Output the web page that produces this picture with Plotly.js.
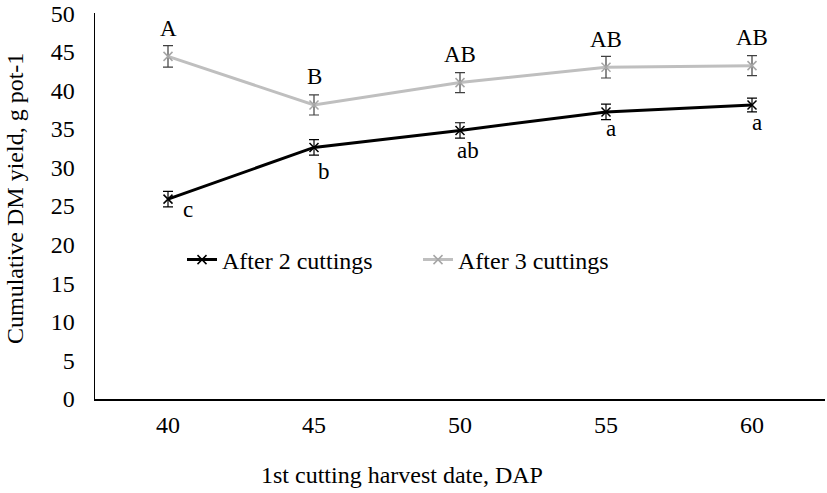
<!DOCTYPE html>
<html>
<head>
<meta charset="utf-8">
<script src="https://cdn.plot.ly/plotly-3.0.1.min.js"></script>
<style>html,body{margin:0;padding:0;background:#fff;}#chart{width:827px;height:493px;}</style>
</head>
<body>
<div id="chart"></div>
<script>
// ---- data ----
const categories = ["40", "45", "50", "55", "60"];
const after2 = [25.9, 32.6, 34.8, 37.2, 38.1];
const after2Err = [1.0, 1.0, 1.0, 1.0, 0.9];
const after3 = [44.4, 38.1, 41.0, 43.0, 43.2];
const after3Err = [1.4, 1.3, 1.3, 1.4, 1.3];
const after2Letters = ["c", "b", "ab", "a", "a"];
const after3Letters = ["A", "B", "AB", "AB", "AB"];
const seriesNames = ["After 2 cuttings", "After 3 cuttings"];
const xTitle = "1st cutting harvest date, DAP";
const yTitle = "Cumulative DM yield, g pot-1";

// ---- style (label offsets in px) ----
const lowerShiftX = [20, 10, 8, 5, 5];
const lowerShiftY = [-10, -24, -20, -17, -18];
const upperShiftY = 28;

const FONT = "Liberation Serif, Times New Roman, serif";
const TOP = 13, BOTTOM = 94, PLOT_H = 493 - TOP - BOTTOM, AXIS_Y = 493 - BOTTOM;

const traces = [
  {
    x: categories, y: after2, name: seriesNames[0], type: "scatter", mode: "lines+markers",
    line: {color: "#000000", width: 3},
    marker: {symbol: "x-thin-open", size: 9, color: "#000000", line: {color: "#000000", width: 1.5}},
    error_y: {type: "data", array: after2Err, visible: true, color: "#000000", thickness: 1.2, width: 5}
  },
  {
    x: categories, y: after3, name: seriesNames[1], type: "scatter", mode: "lines+markers",
    line: {color: "#bfbfbf", width: 3},
    marker: {symbol: "x-thin-open", size: 9, color: "#a6a6a6", line: {color: "#a6a6a6", width: 1.5}},
    error_y: {type: "data", array: after3Err, visible: true, color: "#404040", thickness: 1.2, width: 5}
  }
];

const annotations = [];
categories.forEach((c, i) => {
  annotations.push({x: i, y: after3[i], xref: "x", yref: "y", text: after3Letters[i], showarrow: false,
    yshift: upperShiftY, xanchor: "center", yanchor: "middle", font: {family: FONT, size: 23, color: "#000"}});
  annotations.push({x: i, y: after2[i], xref: "x", yref: "y", text: after2Letters[i], showarrow: false,
    xshift: lowerShiftX[i], yshift: lowerShiftY[i], xanchor: "center", yanchor: "middle", font: {family: FONT, size: 23, color: "#000"}});
});
annotations.push({x: (402 - 95) / 730, y: -(475 - AXIS_Y) / PLOT_H, xref: "paper", yref: "paper", text: xTitle, showarrow: false,
  xanchor: "center", yanchor: "middle", font: {family: FONT, size: 24, color: "#000"}});
annotations.push({x: -(95 - 15) / 730, y: (AXIS_Y - 199) / PLOT_H, xref: "paper", yref: "paper", text: yTitle, showarrow: false,
  textangle: -90, xanchor: "center", yanchor: "middle", font: {family: FONT, size: 24, color: "#000"}});

const layout = {
  width: 827, height: 493,
  margin: {l: 95, r: 2, t: TOP, b: BOTTOM},
  paper_bgcolor: "#fff", plot_bgcolor: "#fff",
  font: {family: FONT, size: 24, color: "#000"},
  showlegend: true,
  legend: {orientation: "h", x: (182 - 95) / 730, xanchor: "left", y: (AXIS_Y - 260) / PLOT_H, yanchor: "middle",
    font: {family: FONT, size: 24, color: "#000"}, bgcolor: "rgba(0,0,0,0)", entrywidth: 191, entrywidthmode: "pixels"},
  xaxis: {type: "category", range: [-0.5, 4.5], showgrid: false, zeroline: false,
    showline: true, linecolor: "#000", linewidth: 1.5, ticks: "", ticklabelstandoff: 4,
    tickfont: {family: FONT, size: 24, color: "#000"}, fixedrange: true},
  yaxis: {range: [0, 50.02], tickmode: "linear", tick0: 0, dtick: 5, showgrid: false, zeroline: false,
    showline: true, linecolor: "#000", linewidth: 1.5, ticks: "", ticklabelstandoff: 14,
    ticklabeloverflow: "allow", tickfont: {family: FONT, size: 24, color: "#000"}, fixedrange: true},
  annotations: annotations
};

Plotly.newPlot("chart", traces, layout, {displayModeBar: false, staticPlot: true});
</script>
</body>
</html>
